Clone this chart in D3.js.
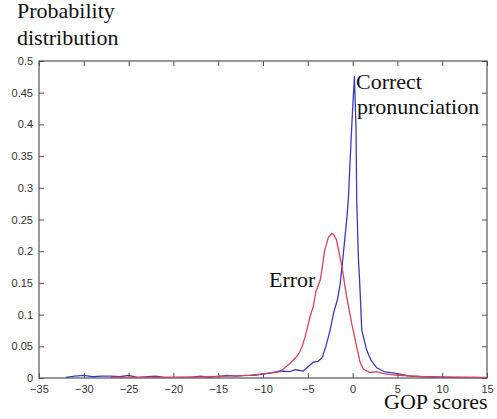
<!DOCTYPE html>
<html>
<head>
<meta charset="utf-8">
<script src="https://cdn.jsdelivr.net/npm/d3@7"></script>
<style>
  body { margin: 0; background: #fff; }
  .tick text { font-family: "Liberation Sans", Arial, sans-serif; font-size: 11px; fill: #333; }
  .lbl { font-family: "Liberation Serif", "Times New Roman", serif; font-size: 20px; fill: #111; }
</style>
</head>
<body>
<div class="chart"></div>
<script>
// GOP score (x) vs probability (y)
const correctX = [-32, -31, -30, -29, -28, -27, -26, -25, -24, -22, -21, -18, -17, -16, -14, -13, -12, -11, -10, -9, -8.1, -7, -6.4, -5.5, -4.4, -3.9, -3.4, -3, -2.5, -2.1, -1.7, -1.4, -1.07, -0.66, -0.48, -0.1, 0.2, 0.38, 0.46, 0.64, 0.83, 1.02, 1.57, 2.05, 2.7, 3.6, 4.5, 5.3, 6.4, 8.6, 11, 15]
const correctY = [0.001, 0.003, 0.004, 0.002, 0.003, 0.003, 0.002, 0.004, 0.001, 0.003, 0.001, 0.001, 0.003, 0.001, 0.004, 0.003, 0.004, 0.004, 0.006, 0.008, 0.011, 0.010, 0.013, 0.011, 0.025, 0.026, 0.032, 0.049, 0.076, 0.104, 0.123, 0.147, 0.191, 0.249, 0.281, 0.396, 0.476, 0.396, 0.281, 0.191, 0.139, 0.076, 0.044, 0.028, 0.016, 0.0095, 0.008, 0.006, 0.003, 0.0016, 0.001, 0.0005]

const errorX = [-27, -20, -17, -14, -11.5, -9.2, -8.1, -7, -6.3, -5.9, -5.5, -5.1, -4.75, -4.4, -4.1, -3.6, -3.1, -2.7, -2.33, -2.1, -1.8, -1.2, -0.66, -0.1, 0.46, 0.83, 1.2, 1.9, 2.7, 3.4, 4.7, 7.5, 11, 15]
const errorY = [0.001, 0.001, 0.0016, 0.003, 0.004, 0.008, 0.010, 0.023, 0.033, 0.041, 0.055, 0.076, 0.097, 0.112, 0.136, 0.155, 0.202, 0.222, 0.228, 0.226, 0.218, 0.176, 0.128, 0.086, 0.049, 0.025, 0.014, 0.0087, 0.010, 0.007, 0.0047, 0.0024, 0.0015, 0.001]

const xTicks = [-35, -30, -25, -20, -15, -10, -5, 0, 5, 10, 15]
const yTicks = [0, 0.05, 0.1, 0.15, 0.2, 0.25, 0.3, 0.35, 0.4, 0.45, 0.5]
const yTickLabels = ["0", "0.05", "0.1", "0.15", "0.2", "0.25", "0.3", "0.35", "0.4", "0.45", "0.5"]

const width = 497, height = 419
const plotLeft = 39, plotRight = 487, plotTop = 61, plotBottom = 378

const svg = d3.select("div.chart").append("svg")
    .attr("width", width)
    .attr("height", height)

const x = d3.scaleLinear().domain([-35, 15]).range([plotLeft, plotRight])
const y = d3.scaleLinear().domain([0, 0.5]).range([plotBottom, plotTop])

const axisColor = "#555"

function styleAxis(g) {
    g.selectAll(".domain").remove()
    g.selectAll(".tick line").attr("stroke", axisColor)
}

svg.append("g")
    .attr("transform", `translate(0,${plotBottom})`)
    .call(d3.axisBottom(x).tickValues(xTicks).tickSizeInner(-5).tickSizeOuter(0).tickPadding(7))
    .call(styleAxis)

svg.append("g")
    .attr("transform", `translate(0,${plotTop})`)
    .call(d3.axisTop(x).tickValues(xTicks).tickSizeInner(-5).tickSizeOuter(0).tickFormat(""))
    .call(styleAxis)

svg.append("g")
    .attr("transform", `translate(${plotLeft},0)`)
    .call(d3.axisLeft(y).tickValues(yTicks).tickSizeInner(-5).tickSizeOuter(0).tickPadding(6)
        .tickFormat((d, i) => yTickLabels[i]))
    .call(styleAxis)

svg.append("g")
    .attr("transform", `translate(${plotRight},0)`)
    .call(d3.axisRight(y).tickValues(yTicks).tickSizeInner(-5).tickSizeOuter(0).tickFormat(""))
    .call(styleAxis)

// frame
svg.append("rect")
    .attr("x", plotLeft)
    .attr("y", plotTop)
    .attr("width", plotRight - plotLeft)
    .attr("height", plotBottom - plotTop)
    .attr("fill", "none")
    .attr("stroke", axisColor)
    .attr("stroke-width", 1.2)

const line = d3.line()
    .x(d => x(d[0]))
    .y(d => y(d[1]))

svg.append("path")
    .datum(d3.zip(correctX, correctY))
    .attr("d", line)
    .attr("fill", "none")
    .attr("stroke", "#3b3bc4")
    .attr("stroke-width", 1.3)

svg.append("path")
    .datum(d3.zip(errorX, errorY))
    .attr("d", line)
    .attr("fill", "none")
    .attr("stroke", "#d6455a")
    .attr("stroke-width", 1.3)

// labels (the original text is a bit stretched sideways)
function label(tx, ty, s) {
    svg.append("text").attr("class", "lbl")
        .attr("transform", `translate(${tx},${ty}) scale(1.1,1)`)
        .text(s)
}
label(17, 18, "Probability")
label(17, 45, "distribution")
label(356, 89, "Correct")
label(357, 114, "pronunciation")
label(269, 287, "Error")
label(384, 409, "GOP scores")
</script>
</body>
</html>
